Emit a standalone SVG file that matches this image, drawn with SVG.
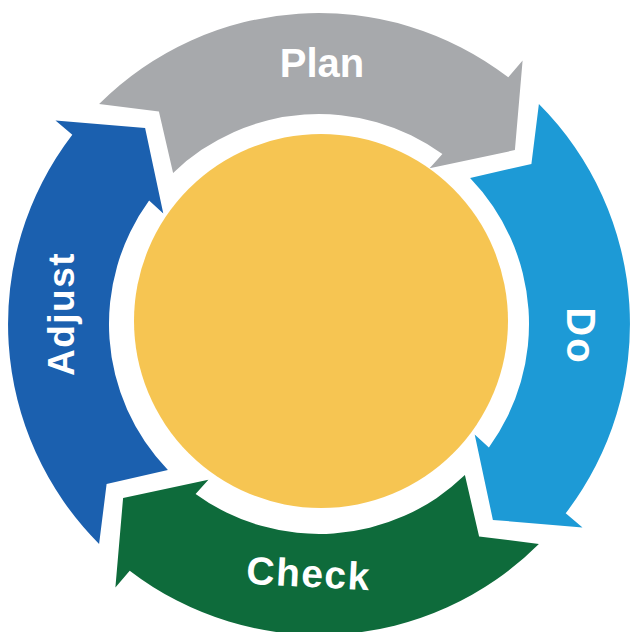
<svg xmlns="http://www.w3.org/2000/svg" xmlns:xlink="http://www.w3.org/1999/xlink" width="631" height="632" viewBox="0 0 631 632">
  <style>
    .lbl { font-family: "Liberation Sans", Arial, sans-serif; font-weight: bold; fill: #ffffff; text-anchor: middle; }
  </style>
  <defs>
    <path id="arrow" d="M 99.1 104.1 A 311 311 0 0 1 508.3 77.3 L 522.6 60.5 L 514.9 150.1 L 429.6 168.3 L 442.4 154.1 A 210 210 0 0 0 173.1 172.9 L 158.9 111.6 Z"/>
  </defs>
  <rect width="631" height="632" fill="#ffffff"/>
  <g id="center">
    <circle cx="321" cy="321" r="187" fill="#F6C552"/>
  </g>
  <g id="plan">
    <use xlink:href="#arrow" href="#arrow" fill="#A7A9AC"/>
    <text class="lbl" x="322" y="77" font-size="40">Plan</text>
  </g>
  <g id="do">
    <use xlink:href="#arrow" href="#arrow" fill="#1D9AD6" transform="rotate(90 319 324)"/>
    <text class="lbl" font-size="40" letter-spacing="2" transform="translate(567 336) rotate(90)">Do</text>
  </g>
  <g id="check">
    <use xlink:href="#arrow" href="#arrow" fill="#0E6B3B" transform="rotate(180 319 324)"/>
    <text class="lbl" font-size="39" letter-spacing="1.5" transform="translate(308 587) rotate(3)">Check</text>
  </g>
  <g id="adjust">
    <use xlink:href="#arrow" href="#arrow" fill="#1B60AF" transform="rotate(270 319 324)"/>
    <text class="lbl" font-size="37" letter-spacing="1.5" transform="translate(74 314) rotate(-90)">Adjust</text>
  </g>
  <g id="connectors"/>
</svg>
